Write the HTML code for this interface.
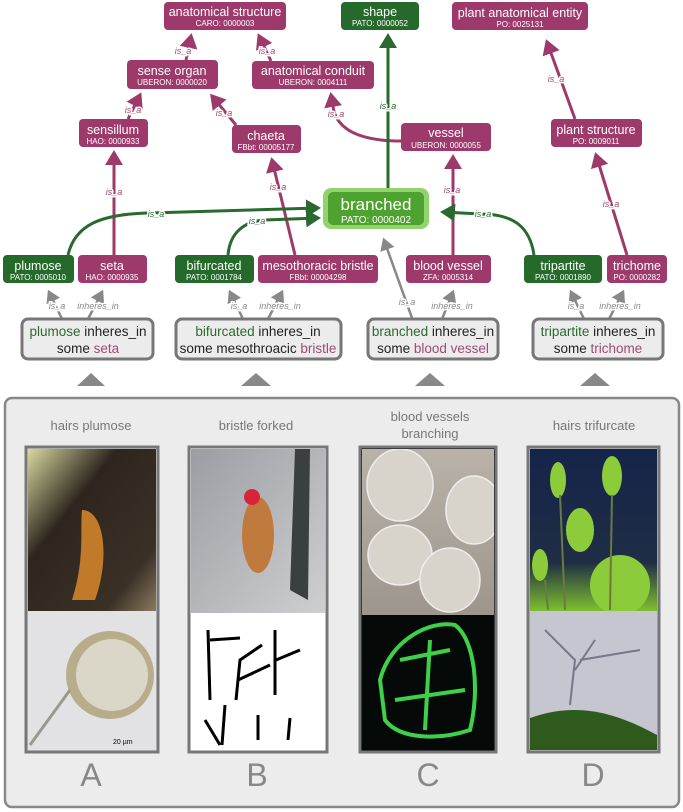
<!DOCTYPE html>
<html><head><meta charset="utf-8"><style>
html,body{margin:0;padding:0;background:#fff;}
svg{display:block;font-family:"Liberation Sans",sans-serif;}
.n{fill:#fff;font-size:12.5px;text-anchor:middle;}
.i{fill:#fff;font-size:8px;text-anchor:middle;}
.l{font-size:9px;font-style:italic;text-anchor:middle;paint-order:stroke;stroke:#fff;stroke-width:3px;}
.lp{fill:#a14a75;} .lg{fill:#2a6a2e;} .lx{fill:#888;}
.bt{font-size:13.5px;text-anchor:middle;fill:#222;}
.t{font-size:13px;fill:#777;text-anchor:middle;}
.L{font-size:32px;fill:#888;text-anchor:middle;}
</style></head><body>
<svg width="683" height="812" viewBox="0 0 683 812">
<defs>
<marker id="ap" markerWidth="6" markerHeight="6" refX="4" refY="3" orient="auto" markerUnits="strokeWidth"><path d="M0,0 L5,3 L0,6 z" fill="#9e3a6b"/></marker>
<marker id="ag" markerWidth="6" markerHeight="6" refX="4" refY="3" orient="auto" markerUnits="strokeWidth"><path d="M0,0 L5,3 L0,6 z" fill="#2a6a2e"/></marker>
<marker id="ax" markerWidth="6" markerHeight="6" refX="4" refY="3" orient="auto" markerUnits="strokeWidth"><path d="M0,0 L5,3 L0,6 z" fill="#888"/></marker>
<clipPath id="cc"><rect x="362" y="449" width="132" height="166"/></clipPath>
<clipPath id="cd"><rect x="530" y="449" width="127" height="301"/></clipPath>
<clipPath id="ca"><rect x="28" y="449" width="128" height="301"/></clipPath>
</defs>
<g stroke="#9e3a6b" stroke-width="3" fill="none" marker-end="url(#ap)">
<line x1="186" y1="60" x2="191" y2="36"/>
<line x1="271" y1="61" x2="259" y2="36"/>
<line x1="128" y1="119" x2="140" y2="95"/>
<line x1="236" y1="125" x2="212" y2="96"/>
<path d="M401,141 C360,141 340,130 334,112 L331,95"/>
<line x1="575" y1="119" x2="547" y2="42"/>
<line x1="627" y1="255" x2="596" y2="155"/>
<line x1="114" y1="255" x2="114" y2="153"/>
<line x1="295" y1="255" x2="272" y2="160"/>
<line x1="453" y1="255" x2="453" y2="157"/>
</g>
<g stroke="#2a6a2e" stroke-width="3" fill="none" marker-end="url(#ag)">
<line x1="388" y1="188" x2="388" y2="36"/>
<path d="M68,255 C75,225 100,214 150,213 L318,208"/>
<path d="M228,255 C230,232 245,221 265,220 L318,218"/>
<path d="M534,255 C530,228 515,214 480,214 L443,212"/>
</g>
<g stroke="#888" stroke-width="2.5" fill="none" marker-end="url(#ax)">
<line x1="412" y1="318" x2="384" y2="240"/>
<line x1="62" y1="319" x2="49" y2="292"/><line x1="88" y1="319" x2="102" y2="292"/>
<line x1="243" y1="319" x2="230" y2="292"/><line x1="268" y1="319" x2="282" y2="292"/>
<line x1="442" y1="319" x2="453" y2="292"/>
<line x1="584" y1="319" x2="571" y2="292"/><line x1="609" y1="319" x2="623" y2="292"/>
</g>
<text class="l lp" x="183" y="54">is_a</text>
<text class="l lp" x="267" y="54">is_a</text>
<text class="l lp" x="133" y="113">is_a</text>
<text class="l lp" x="224" y="116">is_a</text>
<text class="l lp" x="336" y="117">is_a</text>
<text class="l lg" x="388" y="109">is_a</text>
<text class="l lp" x="556" y="82">is_a</text>
<text class="l lp" x="611" y="207">is_a</text>
<text class="l lp" x="114" y="195">is_a</text>
<text class="l lp" x="278" y="190">is_a</text>
<text class="l lp" x="452" y="193">is_a</text>
<text class="l lg" x="156" y="217">is_a</text>
<text class="l lg" x="257" y="224">is_a</text>
<text class="l lg" x="483" y="217">is_a</text>
<text class="l lx" x="407" y="305">is_a</text>
<text class="l lx" x="57" y="309">is_a</text><text class="l lx" x="98" y="309">inheres_in</text>
<text class="l lx" x="239" y="309">is_a</text><text class="l lx" x="280" y="309">inheres_in</text>
<text class="l lx" x="452" y="309">inheres_in</text>
<text class="l lx" x="576" y="309">is_a</text><text class="l lx" x="620" y="309">inheres_in</text>
<g fill="#9e3a6b">
<rect x="164" y="2" width="122" height="28" rx="4"/>
<rect x="452" y="2" width="136" height="28" rx="4"/>
<rect x="127" y="60" width="91" height="29" rx="4"/>
<rect x="252" y="61" width="122" height="28" rx="4"/>
<rect x="79" y="119" width="69" height="28" rx="4"/>
<rect x="232" y="125" width="69" height="28" rx="4"/>
<rect x="401" y="123" width="90" height="28" rx="4"/>
<rect x="551" y="119" width="91" height="28" rx="4"/>
<rect x="78" y="255" width="69" height="28" rx="4"/>
<rect x="258" y="255" width="120" height="28" rx="4"/>
<rect x="406" y="255" width="85" height="28" rx="4"/>
<rect x="607" y="255" width="60" height="28" rx="4"/>
</g>
<g fill="#256a2a">
<rect x="341" y="2" width="78" height="28" rx="4"/>
<rect x="3" y="255" width="71" height="28" rx="4"/>
<rect x="175" y="255" width="79" height="28" rx="4"/>
<rect x="524" y="255" width="78" height="28" rx="4"/>
</g>
<rect x="323" y="188" width="106" height="41" rx="8" fill="#92d36d"/>
<rect x="328" y="192" width="96" height="33" rx="5" fill="#4ea22f"/>
<text class="n" x="225" y="16">anatomical structure</text><text class="i" x="225" y="26">CARO: 0000003</text>
<text class="n" x="380" y="16">shape</text><text class="i" x="380" y="26">PATO: 0000052</text>
<text class="n" x="520" y="17">plant anatomical entity</text><text class="i" x="520" y="27">PO: 0025131</text>
<text class="n" x="172" y="75">sense organ</text><text class="i" x="172" y="85">UBERON: 0000020</text>
<text class="n" x="313" y="75">anatomical conduit</text><text class="i" x="313" y="85">UBERON: 0004111</text>
<text class="n" x="113" y="134">sensillum</text><text class="i" x="113" y="144">HAO: 0000933</text>
<text class="n" x="266" y="140">chaeta</text><text class="i" x="266" y="150">FBbt: 00005177</text>
<text class="n" x="446" y="137">vessel</text><text class="i" x="446" y="148">UBERON: 0000055</text>
<text class="n" x="596" y="134">plant structure</text><text class="i" x="596" y="144">PO: 0009011</text>
<text class="n" x="376" y="210" style="font-size:17px">branched</text><text class="i" x="376" y="223" style="font-size:10px">PATO: 0000402</text>
<text class="n" x="38" y="270">plumose</text><text class="i" x="38" y="280">PATO: 0005010</text>
<text class="n" x="112" y="270">seta</text><text class="i" x="112" y="280">HAO: 0000935</text>
<text class="n" x="214" y="270">bifurcated</text><text class="i" x="214" y="280">PATO: 0001784</text>
<text class="n" x="318" y="270">mesothoracic bristle</text><text class="i" x="318" y="280">FBbt: 00004298</text>
<text class="n" x="448" y="270">blood vessel</text><text class="i" x="448" y="280">ZFA: 0005314</text>
<text class="n" x="563" y="270">tripartite</text><text class="i" x="563" y="280">PATO: 0001890</text>
<text class="n" x="637" y="270">trichome</text><text class="i" x="637" y="280">PO: 0000282</text>
<g fill="#ececec" stroke="#777" stroke-width="3">
<rect x="22" y="319" width="131" height="40" rx="6"/>
<rect x="176" y="319" width="165" height="40" rx="6"/>
<rect x="368" y="319" width="130" height="40" rx="6"/>
<rect x="533" y="319" width="130" height="40" rx="6"/>
</g>
<text class="bt" x="88" y="336"><tspan fill="#2a6a2e">plumose</tspan> inheres_in</text><text class="bt" x="88" y="353">some <tspan fill="#a14a75">seta</tspan></text>
<text class="bt" x="258" y="336"><tspan fill="#2a6a2e">bifurcated</tspan> inheres_in</text><text class="bt" x="258" y="353">some mesothroacic <tspan fill="#a14a75">bristle</tspan></text>
<text class="bt" x="433" y="336"><tspan fill="#2a6a2e">branched</tspan> inheres_in</text><text class="bt" x="433" y="353">some <tspan fill="#a14a75">blood vessel</tspan></text>
<text class="bt" x="598" y="336"><tspan fill="#2a6a2e">tripartite</tspan> inheres_in</text><text class="bt" x="598" y="353">some <tspan fill="#a14a75">trichome</tspan></text>
<g fill="#888">
<path d="M77,386 L91,373 L105,386z"/><path d="M241,386 L256,373 L271,386z"/>
<path d="M415,386 L430,373 L445,386z"/><path d="M580,386 L595,373 L610,386z"/>
</g>
<rect x="5" y="398" width="674" height="409" rx="7" fill="#ececec" stroke="#888" stroke-width="2.5"/>
<text class="t" x="91" y="430">hairs plumose</text>
<text class="t" x="256" y="430">bristle forked</text>
<text class="t" x="430" y="421">blood vessels</text><text class="t" x="430" y="438">branching</text>
<text class="t" x="594" y="430">hairs trifurcate</text>
<defs>
<linearGradient id="ga" x1="0" y1="0" x2="1" y2="1"><stop offset="0" stop-color="#d8d8a0"/><stop offset=".35" stop-color="#2e261e"/><stop offset=".8" stop-color="#3a3026"/><stop offset="1" stop-color="#8a7a60"/></linearGradient>
<linearGradient id="gb" x1="0" y1="0" x2="1" y2="1"><stop offset="0" stop-color="#9a9ea3"/><stop offset="1" stop-color="#cfcfd1"/></linearGradient>
<linearGradient id="gc" x1="0" y1="0" x2="0" y2="1"><stop offset="0" stop-color="#b8b2a8"/><stop offset="1" stop-color="#9d968c"/></linearGradient>
<linearGradient id="gd" x1="0" y1="0" x2="0" y2="1"><stop offset="0" stop-color="#15244a"/><stop offset=".7" stop-color="#1f2d45"/><stop offset="1" stop-color="#7fbf30"/></linearGradient>
</defs>
<g stroke="#777" stroke-width="3">
<rect x="26" y="447" width="132" height="305" fill="#ddd"/>
<rect x="189" y="447" width="138" height="305" fill="#fff"/>
<rect x="360" y="447" width="136" height="305" fill="#000"/>
<rect x="528" y="447" width="131" height="305" fill="#ccc"/>
</g>
<g clip-path="url(#ca)">
<rect x="28" y="449" width="128" height="162" fill="url(#ga)"/>
<path d="M82,510 C105,510 110,560 95,600 L72,600 C85,560 80,530 82,510z" fill="#c07a2a"/>
<rect x="28" y="611" width="128" height="139" fill="#e2e2e4"/>
<circle cx="110" cy="675" r="44" fill="#b7ad8a"/><circle cx="112" cy="675" r="36" fill="#dad6c8"/>
<path d="M30,745 L70,690" stroke="#9a9a8a" stroke-width="3"/>
<text x="113" y="744" font-size="7" fill="#000">20 µm</text>
</g>
<rect x="191" y="449" width="134" height="164" fill="url(#gb)"/>
<path d="M295,449 L310,449 L308,600 L290,590z" fill="#3a3f3f"/>
<ellipse cx="258" cy="535" rx="16" ry="38" fill="#c07a3e"/><circle cx="252" cy="497" r="8" fill="#d8243a"/>
<g stroke="#000" stroke-width="3" fill="none">
<path d="M210,700 L208,630 M210,640 L240,638 M236,700 L240,660 L262,645 M238,680 L270,665 M275,695 L275,630 M276,660 L300,650 M220,745 L205,720 M222,745 L225,705 M258,740 L258,715 M288,740 L290,718"/>
</g>
<g clip-path="url(#cc)">
<rect x="362" y="449" width="132" height="166" fill="url(#gc)"/>
<g fill="#d8d4cc" stroke="#eee" stroke-width="1.5">
<ellipse cx="400" cy="485" rx="33" ry="36"/><ellipse cx="474" cy="510" rx="28" ry="34"/>
<ellipse cx="400" cy="555" rx="32" ry="30"/><ellipse cx="450" cy="580" rx="30" ry="32"/>
</g>
</g>
<rect x="362" y="615" width="132" height="135" fill="#050a08"/>
<path d="M380,680 C390,640 430,620 455,625 C475,640 480,690 470,730 C440,740 400,740 385,720 Z M400,660 L450,650 M395,700 L465,690 M430,640 L425,730" stroke="#3fd04a" stroke-width="4" fill="none"/>
<g clip-path="url(#cd)">
<rect x="530" y="449" width="127" height="162" fill="url(#gd)"/>
<g fill="#8ccc3a"><ellipse cx="558" cy="480" rx="8" ry="18"/><ellipse cx="612" cy="476" rx="10" ry="20"/><ellipse cx="580" cy="530" rx="14" ry="22"/><ellipse cx="620" cy="585" rx="30" ry="30"/><ellipse cx="540" cy="565" rx="8" ry="16"/></g>
<g stroke="#6a7a40" stroke-width="2"><line x1="560" y1="495" x2="565" y2="610"/><line x1="612" y1="495" x2="610" y2="610"/><line x1="545" y1="580" x2="548" y2="610"/></g>
<rect x="530" y="611" width="127" height="139" fill="#c6c6d0"/>
<path d="M530,718 C580,700 620,715 657,735 L657,750 L530,750z" fill="#2f5a1e"/>
<path d="M570,705 L575,660 L545,630 M575,670 L595,640 M580,660 L640,650" stroke="#778" stroke-width="2" fill="none"/>
</g>
<text class="L" x="91" y="786">A</text>
<text class="L" x="257" y="786">B</text>
<text class="L" x="428" y="786">C</text>
<text class="L" x="593" y="786">D</text>
</svg>
</body></html>
